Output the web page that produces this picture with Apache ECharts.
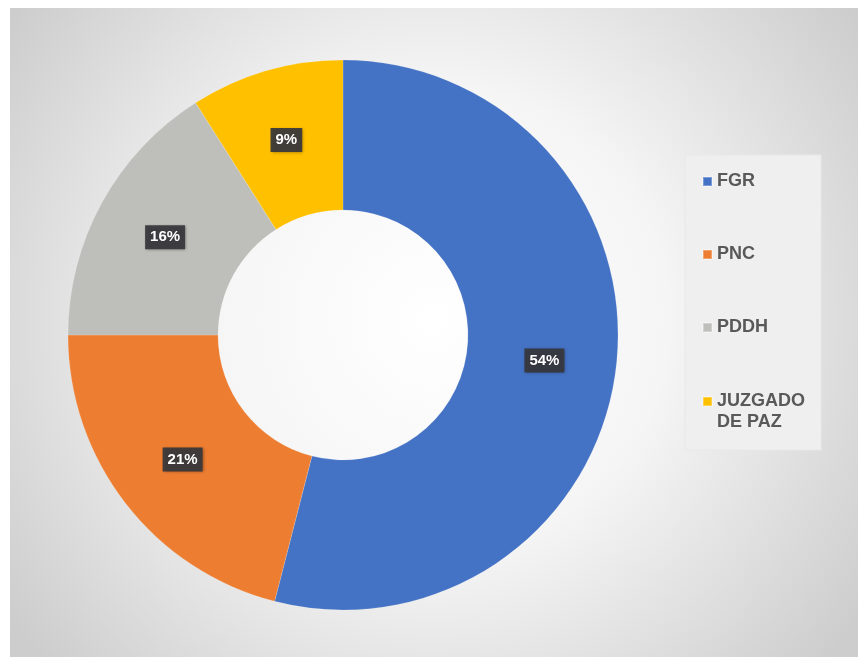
<!DOCTYPE html>
<html>
<head>
<meta charset="utf-8">
<script src="https://cdn.jsdelivr.net/npm/echarts@6/dist/echarts.min.js"></script>
<style>
  html, body { margin: 0; padding: 0; background: #ffffff; }
  #chart { width: 858px; height: 657px; }
</style>
</head>
<body>
<div id="chart"></div>
<script>
    // datos del gráfico
    var categories = ['FGR', 'PNC', 'PDDH', 'JUZGADO DE PAZ'];
    var values = [54, 21, 16, 9];
    var colors = ['#4472C4', '#ED7D31', '#BEBEBB', '#FFC000'];

    var myChart = echarts.init(document.getElementById('chart'));

    var legendText = {
        fontFamily: 'Liberation Sans, Arial, sans-serif',
        fontWeight: 'bold',
        fontSize: 18,
        lineHeight: 21,
        color: '#595959'
    };

    var option = {
        animation: false,
        color: colors,
        graphic: [
            {
                type: 'rect',
                silent: true,
                z: -10,
                shape: { x: 10, y: 8, width: 848, height: 649 },
                style: {
                    fill: {
                        type: 'radial', x: 0.5, y: 0.48, r: 0.8,
                        colorStops: [
                            { offset: 0, color: '#ffffff' },
                            { offset: 0.45, color: '#f5f5f5' },
                            { offset: 1, color: '#cdcdcd' }
                        ]
                    }
                }
            },
            {
                type: 'rect',
                silent: true,
                z: -5,
                shape: { x: 685, y: 155, width: 136, height: 295 },
                style: { fill: '#efefef', stroke: '#e8e8e8', lineWidth: 1 }
            }
        ],
        legend: [
            {
                orient: 'vertical',
                left: 702,
                top: 171,
                padding: 0,
                itemGap: 52,
                itemWidth: 9,
                itemHeight: 9,
                icon: 'rect',
                data: categories.slice(0, 3),
                textStyle: legendText
            },
            {
                orient: 'vertical',
                left: 702,
                top: 370,
                padding: 0,
                itemWidth: 9,
                itemHeight: 9,
                icon: 'rect',
                data: [categories[3]],
                formatter: function () { return '\nJUZGADO\nDE PAZ'; },
                textStyle: legendText
            }
        ],
        series: [{
            type: 'pie',
            center: [343, 335],
            radius: [125, 275],
            startAngle: 90,
            clockwise: true,
            itemStyle: { borderColor: 'rgba(255,255,255,0.3)', borderWidth: 0.5 },
            label: {
                show: true,
                position: 'inside',
                formatter: '{c}%',
                color: '#ffffff',
                fontFamily: 'Liberation Sans, Arial, sans-serif',
                fontWeight: 'bold',
                fontSize: 15,
                backgroundColor: 'rgba(55,55,60,0.92)',
                padding: [5, 5, 4, 5],
                shadowColor: 'rgba(0,0,0,0.4)',
                shadowBlur: 3,
                shadowOffsetX: 1,
                shadowOffsetY: 1
            },
            labelLine: { show: false },
            emphasis: { disabled: true },
            data: categories.map(function (name, i) {
                return { name: name, value: values[i] };
            })
        }]
    };

    myChart.setOption(option);
</script>
</body>
</html>
